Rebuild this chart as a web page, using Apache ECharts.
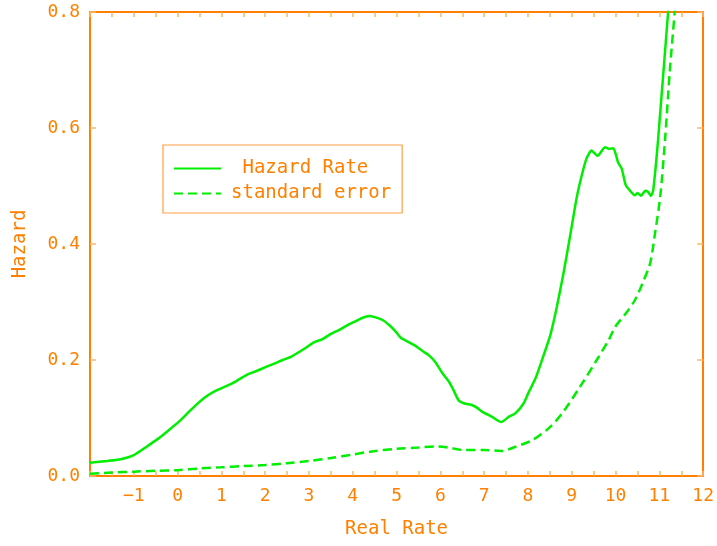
<!DOCTYPE html>
<html>
<head>
<meta charset="utf-8">
<script src="https://cdn.jsdelivr.net/npm/echarts@6/dist/echarts.min.js"></script>
<style>
  html, body { margin: 0; padding: 0; background: #fff; }
  #chart { width: 717px; height: 546px; }
</style>
</head>
<body>
<div id="chart"></div>
<script>
// Hazard rate vs real rate
const hazardX = [-2.0, -1.6, -1.3, -1.0, -0.7, -0.45, -0.25, 0.05, 0.25, 0.43, 0.6, 0.73, 0.9, 1.11, 1.3, 1.57, 1.8, 2.02, 2.25, 2.4, 2.6, 2.93, 3.1, 3.31, 3.5, 3.69, 3.9, 4.07, 4.2, 4.37, 4.5, 4.68, 4.85, 4.98, 5.1, 5.2, 5.44, 5.6, 5.74, 5.9, 6.04, 6.2, 6.3, 6.42, 6.55, 6.73, 6.85, 6.95, 7.18, 7.39, 7.56, 7.71, 7.9, 8.02, 8.17, 8.32, 8.51, 8.66, 8.81, 8.96, 9.11, 9.23, 9.34, 9.45, 9.59, 9.76, 9.85, 9.95, 10.06, 10.14, 10.23, 10.33, 10.44, 10.5, 10.58, 10.68, 10.74, 10.81, 10.86, 10.97, 11.2, 11.35]
const hazard = [0.023, 0.026, 0.029, 0.036, 0.051, 0.064, 0.076, 0.095, 0.110, 0.123, 0.134, 0.141, 0.148, 0.155, 0.162, 0.174, 0.181, 0.188, 0.195, 0.200, 0.206, 0.221, 0.230, 0.236, 0.245, 0.252, 0.261, 0.267, 0.272, 0.276, 0.274, 0.269, 0.259, 0.249, 0.238, 0.234, 0.224, 0.215, 0.208, 0.195, 0.178, 0.162, 0.148, 0.130, 0.125, 0.122, 0.117, 0.111, 0.102, 0.093, 0.102, 0.108, 0.125, 0.145, 0.168, 0.200, 0.243, 0.292, 0.349, 0.413, 0.479, 0.519, 0.548, 0.561, 0.552, 0.567, 0.564, 0.565, 0.540, 0.530, 0.502, 0.492, 0.484, 0.488, 0.483, 0.492, 0.490, 0.483, 0.493, 0.579, 0.800, 0.930]

const seX = [-2.0, -1.5, -1.0, -0.5, 0.0, 0.5, 1.0, 1.5, 2.0, 2.5, 3.0, 3.5, 4.0, 4.4, 5.0, 5.5, 5.9, 6.2, 6.5, 7.0, 7.4, 7.7, 8.1, 8.47, 8.78, 9.19, 9.57, 9.84, 9.99, 10.21, 10.44, 10.63, 10.79, 10.9, 11.02, 11.13, 11.24, 11.35, 11.45]
const stdErr = [0.004, 0.006, 0.0075, 0.009, 0.010, 0.013, 0.015, 0.017, 0.019, 0.022, 0.026, 0.031, 0.037, 0.042, 0.047, 0.049, 0.051, 0.049, 0.045, 0.045, 0.043, 0.050, 0.062, 0.082, 0.108, 0.154, 0.200, 0.234, 0.257, 0.278, 0.303, 0.335, 0.367, 0.418, 0.482, 0.580, 0.700, 0.800, 0.900]

const seriesNames = ['Hazard Rate', 'standard error']

const ORANGE = '#ff8000'
const TICK = '#ffb566'
const GREEN = '#00ee00'
const FONT = '"DejaVu Sans Mono", "Liberation Mono", monospace'

const chart = echarts.init(document.getElementById('chart'))

const pairs = (xs, ys) => xs.map((x, i) => [x, ys[i]])

const baseX = {
  type: 'value', min: -2, max: 12, interval: 1,
  axisLine: { show: true, onZero: false, lineStyle: { color: ORANGE, width: 2 } },
  axisTick: { show: true, inside: true, length: 5, lineStyle: { color: TICK, width: 1.5 } },
  minorTick: { show: true, splitNumber: 2, length: 5, lineStyle: { color: TICK, width: 1.5 } },
  splitLine: { show: false },
}
const baseY = {
  type: 'value', min: 0, max: 0.8, interval: 0.2,
  axisLine: { show: true, onZero: false, lineStyle: { color: ORANGE, width: 2 } },
  axisTick: { show: true, inside: true, length: 6, lineStyle: { color: TICK, width: 1.5 } },
  splitLine: { show: false },
}

chart.setOption({
  animation: false,
  backgroundColor: '#fff',
  grid: { left: 90, right: 12, top: 12, bottom: 70 },
  legend: {
    data: seriesNames,
    orient: 'vertical',
    left: 163, top: 145,
    itemWidth: 47, itemHeight: 14, itemGap: 6,
    padding: [14, 11, 10, 10],
    borderColor: '#ffa040', borderWidth: 1.2,
    itemStyle: { opacity: 0 },
    // the short label sits centred in the box, one char further in
    formatter: name => name === seriesNames[0] ? ' ' + name : name,
    textStyle: { color: ORANGE, fontSize: 19, fontFamily: FONT, padding: [0, 0, 0, 5] },
  },
  xAxis: [
    {
      ...baseX,
      position: 'bottom',
      name: 'Real Rate', nameLocation: 'middle', nameGap: 44,
      nameTextStyle: { color: ORANGE, fontSize: 19, fontFamily: FONT },
      axisLabel: {
        color: ORANGE, fontSize: 18, fontFamily: FONT, margin: 11, showMinLabel: false,
        formatter: v => String(v).replace('-', '\u2212'),
      },
    },
    { ...baseX, position: 'top', axisLabel: { show: false } },
  ],
  yAxis: [
    {
      ...baseY,
      position: 'left',
      name: 'Hazard', nameLocation: 'middle', nameGap: 60, nameRotate: 90,
      nameTextStyle: { color: ORANGE, fontSize: 19, fontFamily: FONT },
      axisLabel: { color: ORANGE, fontSize: 18, fontFamily: FONT, margin: 10, formatter: v => v.toFixed(1) },
    },
    { ...baseY, position: 'right', axisLabel: { show: false } },
  ],
  series: [
    {
      name: seriesNames[0], type: 'line',
      data: pairs(hazardX, hazard),
      symbol: 'none', smooth: 0.2, clip: true,
      lineStyle: { color: GREEN, width: 2.5 },
      itemStyle: { color: GREEN },
    },
    {
      name: seriesNames[1], type: 'line',
      data: pairs(seX, stdErr),
      symbol: 'none', smooth: 0.3, clip: true,
      lineStyle: { color: GREEN, width: 2.5, type: [9, 5] },
      itemStyle: { color: GREEN },
    },
  ],
})
</script>
</body>
</html>
